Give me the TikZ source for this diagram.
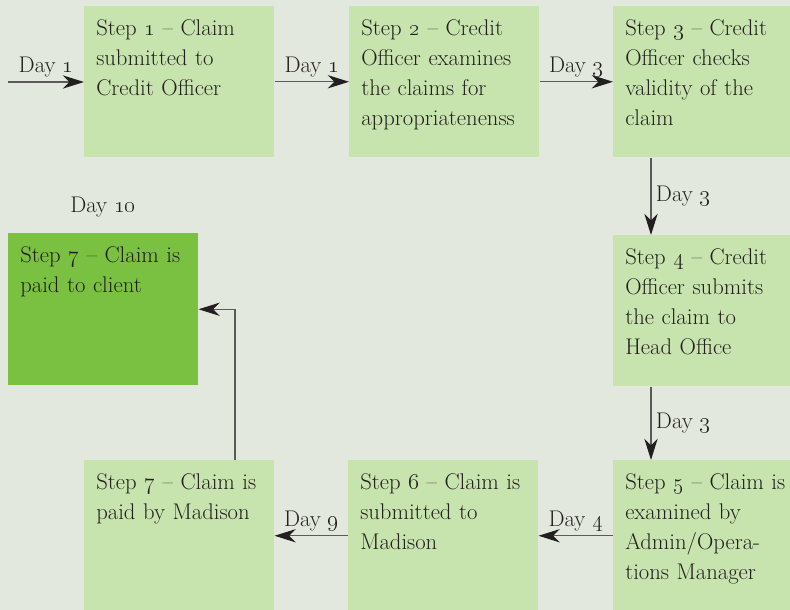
\documentclass[tikz,border=0pt]{standalone}
\usetikzlibrary{arrows.meta,calc}
\definecolor{bgcol}{HTML}{E2E8DE}
\definecolor{lightgreen}{HTML}{C8E4AE}
\definecolor{darkgreen}{HTML}{7AC142}
\definecolor{inkcol}{HTML}{231F20}
\definecolor{linecol}{HTML}{5A5A5A}
\newcommand{\os}[1]{\oldstylenums{#1}}
\begin{document}
\begin{tikzpicture}[x=0.75pt,y=-0.75pt,
  stepbox/.style={fill=lightgreen, draw=none, anchor=north west,
    inner xsep=9pt, inner ysep=0pt, text width=124.5pt, align=left,
    text height=21.75pt, text depth=91.5pt, text=inkcol,
    font=\fontsize{17}{22.5}\selectfont},
  arr/.style={draw=linecol, line width=0.8pt,
    -{Stealth[length=16pt,width=10pt,inset=5pt,color=inkcol,fill=inkcol]}},
  daylbl/.style={text=inkcol, font=\fontsize{17}{22.5}\selectfont}]
\useasboundingbox[fill=bgcol] (0,0) rectangle (790,610);
\node[stepbox] (b1) at (84,6) {Step \os{1} -- Claim\\submitted to\\Credit Officer};
\node[stepbox] (b2) at (349,6) {Step \os{2} -- Credit\\Officer examines\\the claims for\\appropriatenenss};
\node[stepbox] (b3) at (613,6) {Step \os{3} -- Credit\\Officer checks\\validity of the\\claim};
\node[stepbox] (b4) at (613,235) {Step \os{4} -- Credit\\Officer submits\\the claim to\\Head Office};
\node[stepbox] (b5) at (613,460) {Step \os{5} -- Claim is\\examined by\\Admin/Opera-\\tions Manager};
\node[stepbox] (b6) at (348,460) {Step \os{6} -- Claim is\\submitted to\\Madison};
\node[stepbox] (b7) at (84,460) {Step \os{7} -- Claim is\\paid by Madison};
\node[stepbox, fill=darkgreen, text depth=92.25pt] (b8) at (8,233) {Step \os{7} -- Claim is\\paid to client};
\coordinate (entry) at (8,82);
\draw[arr] (entry) -- node[daylbl, above] {Day \os{1}} (entry -| b1.west);
\draw[arr] (b1.east) -- node[daylbl, above] {Day \os{1}} (b2.west);
\draw[arr] (b2.east) -- node[daylbl, above] {Day \os{3}} (b3.west);
\draw[arr] ($(b3.south west)+(38,0)$) -- node[daylbl, right] {Day \os{3}} ($(b4.north west)+(38,0)$);
\draw[arr] ($(b4.south west)+(38,0)$) -- node[daylbl, right] {Day \os{3}} ($(b5.north west)+(38,0)$);
\draw[arr] (b5.west) -- node[daylbl, above] {Day \os{4}} (b6.east);
\draw[arr] (b6.west) -- node[daylbl, above] {Day \os{9}} (b7.east);
\draw[arr] ($(b7.north west)+(151,0)$) |- (b8.east);
\node[daylbl, anchor=base] (day10) at (103,213) {Day \os{10}};
\end{tikzpicture}
\end{document}
